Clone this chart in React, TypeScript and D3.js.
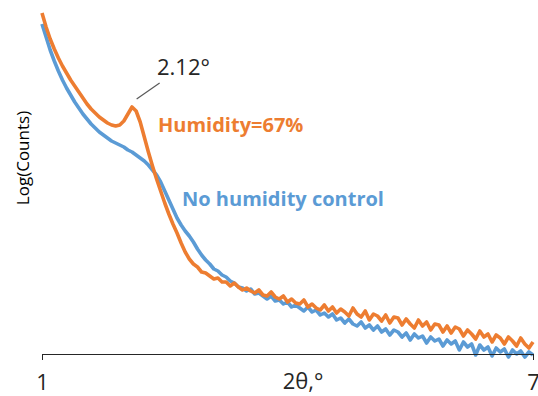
import * as d3 from "d3";
import { useRef, useEffect } from "react";

// 2θ grid (degrees), shared by both scans
const twoTheta = [
  1.0, 1.05, 1.1, 1.15, 1.2, 1.25, 1.3, 1.35, 1.4, 1.45, 1.5, 1.55, 1.6, 1.65, 1.7, 1.75, 1.8, 1.85, 1.9, 1.95,
  2.0, 2.05, 2.1, 2.15, 2.2, 2.25, 2.3, 2.35, 2.4, 2.45, 2.5, 2.55, 2.6, 2.65, 2.7, 2.75, 2.8, 2.85, 2.9, 2.95,
  3.0, 3.05, 3.1, 3.15, 3.2, 3.25, 3.3, 3.35, 3.4, 3.45, 3.5, 3.55, 3.6, 3.65, 3.7, 3.75, 3.8, 3.85, 3.9, 3.95,
  4.0, 4.05, 4.1, 4.15, 4.2, 4.25, 4.3, 4.35, 4.4, 4.45, 4.5, 4.55, 4.6, 4.65, 4.7, 4.75, 4.8, 4.85, 4.9, 4.95,
  5.0, 5.05, 5.1, 5.15, 5.2, 5.25, 5.3, 5.35, 5.4, 5.45, 5.5, 5.55, 5.6, 5.65, 5.7, 5.75, 5.8, 5.85, 5.9, 5.95,
  6.0, 6.05, 6.1, 6.15, 6.2, 6.25, 6.3, 6.35, 6.4, 6.45, 6.5, 6.55, 6.6, 6.65, 6.7, 6.75, 6.8, 6.85, 6.9, 6.95,
  7.0,
];

// log(counts), no humidity control
const noControl = [
  4.3, 4.17, 4.04, 3.93, 3.83, 3.74, 3.66, 3.59, 3.52, 3.46, 3.4, 3.35, 3.3, 3.26, 3.22, 3.19, 3.16, 3.13, 3.11, 3.09,
  3.07, 3.04, 3.02, 2.99, 2.96, 2.93, 2.89, 2.84, 2.79, 2.72, 2.63, 2.54, 2.45, 2.36, 2.29, 2.23, 2.18, 2.12, 2.05, 1.99,
  1.94, 1.9, 1.85, 1.83, 1.79, 1.77, 1.73, 1.71, 1.67, 1.66, 1.63, 1.65, 1.6, 1.61, 1.58, 1.55, 1.58, 1.53, 1.54, 1.5,
  1.52, 1.47, 1.49, 1.46, 1.43, 1.47, 1.42, 1.44, 1.39, 1.41, 1.37, 1.4, 1.34, 1.36, 1.31, 1.35, 1.3, 1.28, 1.32, 1.26,
  1.29, 1.24, 1.28, 1.22, 1.25, 1.19, 1.24, 1.22, 1.17, 1.21, 1.14, 1.2, 1.16, 1.18, 1.11, 1.17, 1.13, 1.15, 1.08, 1.14,
  1.1, 1.13, 1.04, 1.12, 1.07, 1.1, 0.99, 1.09, 1.04, 1.07, 0.98, 1.06, 1.02, 1.05, 0.97, 1.04, 1.0, 1.03, 0.97, 1.02,
  0.99,
];

// log(counts), humidity = 67%
const humidity67 = [
  4.41, 4.27, 4.15, 4.05, 3.96, 3.88, 3.81, 3.74, 3.68, 3.62, 3.56, 3.5, 3.45, 3.41, 3.37, 3.34, 3.31, 3.29, 3.28, 3.29,
  3.33, 3.4, 3.47, 3.43, 3.32, 3.17, 3.02, 2.88, 2.75, 2.63, 2.51, 2.4, 2.3, 2.21, 2.11, 2.02, 1.95, 1.9, 1.87, 1.82,
  1.81, 1.78, 1.75, 1.76, 1.72, 1.72, 1.68, 1.71, 1.67, 1.64, 1.66, 1.63, 1.61, 1.64, 1.59, 1.58, 1.62, 1.57, 1.55, 1.58,
  1.52, 1.55, 1.51, 1.5, 1.54, 1.47, 1.5, 1.46, 1.44, 1.49, 1.43, 1.47, 1.41, 1.45, 1.42, 1.38, 1.46, 1.4, 1.37, 1.43,
  1.34, 1.4, 1.38, 1.33, 1.39, 1.31, 1.37, 1.36, 1.29, 1.35, 1.3, 1.26, 1.34, 1.28, 1.32, 1.24, 1.3, 1.29, 1.22, 1.28,
  1.21, 1.27, 1.25, 1.18, 1.24, 1.2, 1.15, 1.23, 1.17, 1.2, 1.12, 1.19, 1.16, 1.1, 1.17, 1.13, 1.08, 1.16, 1.1, 1.06,
  1.12,
];

const xTicks = [1, 7];
const peakAngle = 2.12;

const width = 538;
const height = 396;
const marginLeft = 42;
const marginRight = 5;
const axisY = 354;
const font = "'Open Sans', sans-serif";

export default function App() {
  const gx = useRef<SVGGElement | null>(null);

  const x = d3.scaleLinear([1, 7], [marginLeft, width - marginRight]);
  const y = d3.scaleLinear([1, 4.4], [axisY, 14]);

  const line = d3
    .line<number>()
    .x((_, i) => x(twoTheta[i]))
    .y((d) => y(d));

  useEffect(() => {
    const g = d3.select(gx.current!);
    g.call(d3.axisBottom(x).tickValues(xTicks).tickFormat(d3.format("d")).tickSize(6).tickPadding(14));
    g.select(".domain").attr("stroke", "#262626");
    g.selectAll(".tick line").attr("stroke", "#262626");
    g.selectAll(".tick text").attr("font-size", 22).attr("font-family", font).attr("fill", "#262626");
  }, [x]);

  const px = x(peakAngle);

  return (
    <svg width={width} height={height} style={{ position: "absolute", left: 0, top: 0 }}>
      <path d={line(noControl) as string} fill="none" stroke="#5B9BD5" strokeWidth={3.6} strokeLinejoin="round" />
      <path d={line(humidity67) as string} fill="none" stroke="#ED7D31" strokeWidth={3.6} strokeLinejoin="round" />
      <g ref={gx} transform={`translate(0,${axisY})`} />

      <text x={303} y={389} fontSize={22} fontFamily={font} textAnchor="middle" fill="#262626">
        2θ,°
      </text>
      <text
        transform="translate(29,158) rotate(-90)"
        fontSize={17}
        fontFamily={font}
        textAnchor="middle"
        fill="#000"
      >
        Log(Counts)
      </text>

      <line x1={px + 3} y1={99} x2={px + 26} y2={83} stroke="#595959" strokeWidth={1.2} />
      <text x={157} y={75} fontSize={22} fontFamily={font} fill="#262626">
        2.12°
      </text>
      <text x={158} y={132} fontSize={20} fontWeight="bold" fontFamily={font} fill="#ED7D31">
        Humidity=67%
      </text>
      <text x={182} y={206} fontSize={20} fontWeight="bold" fontFamily={font} fill="#5B9BD5">
        No humidity control
      </text>
    </svg>
  );
}
